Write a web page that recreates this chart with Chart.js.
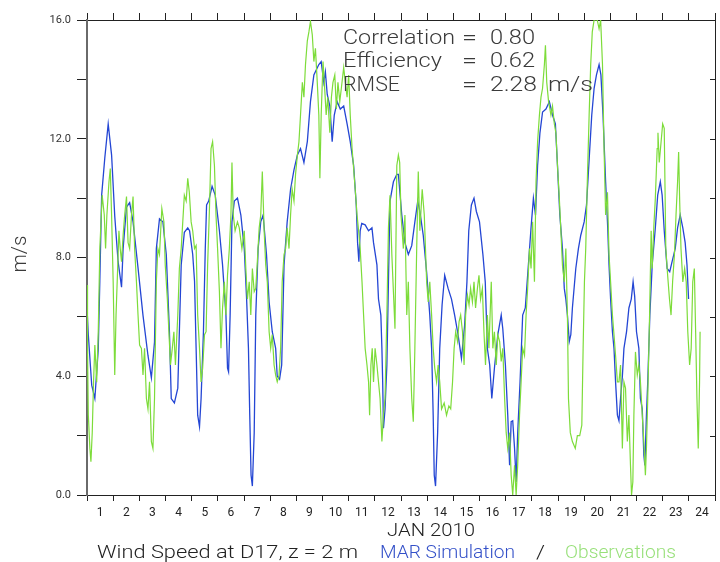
<!DOCTYPE html>
<html>
<head>
<meta charset="utf-8">
<script src="https://cdn.jsdelivr.net/npm/chart.js@4/dist/chart.umd.min.js"></script>
<style>
  html, body { margin: 0; padding: 0; background: #fff; }
  canvas { display: block; }
</style>
</head>
<body>
<canvas id="c" width="720" height="562"></canvas>
<script>
// ---- Data (time in days since 1 Jan 2010 00h, wind speed in m/s) ----
const simDays = [0.00,0.05,0.18,0.30,0.43,0.49,0.56,0.68,0.81,0.94,1.06,1.19,1.32,1.38,1.51,1.63,1.76,1.95,2.14,2.33,2.46,2.58,2.65,2.77,2.90,3.03,3.15,3.22,3.34,3.47,3.60,3.72,3.85,3.92,4.04,4.11,4.17,4.23,4.30,4.36,4.45,4.52,4.57,4.65,4.78,4.90,5.06,5.18,5.31,5.37,5.41,5.47,5.54,5.63,5.75,5.88,6.01,6.10,6.17,6.22,6.27,6.32,6.39,6.45,6.54,6.64,6.73,6.86,6.96,7.08,7.21,7.27,7.36,7.44,7.53,7.65,7.78,7.91,8.04,8.16,8.29,8.42,8.54,8.67,8.86,8.95,9.05,9.11,9.18,9.28,9.37,9.45,9.56,9.68,9.81,9.94,10.06,10.19,10.29,10.34,10.39,10.44,10.50,10.63,10.76,10.89,10.95,11.08,11.14,11.23,11.27,11.30,11.33,11.39,11.46,11.52,11.58,11.71,11.84,11.90,12.03,12.15,12.28,12.41,12.53,12.64,12.72,12.85,12.98,13.10,13.17,13.23,13.27,13.32,13.40,13.48,13.57,13.67,13.80,13.93,14.05,14.18,14.31,14.43,14.52,14.59,14.69,14.79,14.88,15.00,15.13,15.22,15.30,15.39,15.47,15.57,15.70,15.83,15.89,15.99,16.08,16.15,16.21,16.27,16.34,16.40,16.46,16.55,16.65,16.75,16.84,16.97,17.06,17.14,17.22,17.31,17.41,17.54,17.67,17.79,17.90,17.98,18.07,18.17,18.24,18.30,18.36,18.43,18.49,18.55,18.68,18.78,18.87,19.00,19.09,19.19,19.29,19.38,19.47,19.57,19.64,19.72,19.82,19.90,19.95,20.01,20.08,20.14,20.20,20.27,20.33,20.39,20.46,20.52,20.62,20.71,20.80,20.87,20.93,21.00,21.09,21.15,21.22,21.28,21.32,21.38,21.43,21.51,21.60,21.72,21.81,21.91,21.98,22.06,22.17,22.27,22.36,22.48,22.57,22.67,22.77,22.86,22.93,22.99];
const simSpeed = [6.3,5.4,3.7,3.25,4.9,7.2,10.1,11.35,12.5,11.45,9.4,7.85,7.0,8.3,9.7,9.85,9.2,7.65,6.05,4.7,3.95,5.15,8.3,9.3,9.2,8.1,5.5,3.25,3.1,3.6,7.75,8.85,9.0,8.9,8.1,7.2,4.94,2.69,2.3,3.25,5.5,8.3,9.77,9.9,10.4,10.1,8.9,7.75,6.06,4.27,4.15,6.06,9.2,9.9,10.0,9.43,8.3,6.6,4.94,2.69,0.67,0.3,2.1,6.06,8.3,9.2,9.43,8.1,6.5,5.5,4.94,4.0,3.9,4.38,7.75,9.2,10.3,10.95,11.45,11.67,11.2,11.9,13.25,14.15,14.5,14.6,13.9,14.25,13.5,13.1,11.9,12.8,13.25,13.0,13.1,12.5,11.9,11.1,9.77,8.5,7.86,8.9,9.15,9.1,8.9,9.0,8.5,7.75,6.6,6.06,4.94,3.81,2.25,2.9,4.38,7.18,9.9,10.55,10.8,10.8,9.43,8.5,8.1,8.4,9.2,9.9,9.55,8.75,7.5,6.06,4.94,2.69,0.67,0.3,2.1,4.94,6.4,7.4,6.96,6.6,6.06,5.4,4.6,5.7,7.18,8.9,9.77,10.0,9.55,9.2,8.1,7.18,4.94,4.38,3.25,4.27,5.4,6.06,5.6,4.38,2.69,1.0,2.47,2.5,1.57,0.44,2.1,3.81,6.06,6.3,7.4,9.0,10.0,9.43,11.1,12.2,12.9,13.0,13.25,12.8,12.5,11.1,9.43,8.3,6.96,6.6,6.06,5.17,5.4,6.3,7.63,8.3,8.75,9.2,9.77,11.3,12.8,13.7,14.15,14.5,14.15,12.8,10.55,9.0,7.75,6.6,5.5,4.94,3.81,2.69,2.5,3.25,4.0,4.94,5.5,6.3,6.6,7.18,6.7,5.5,4.94,3.25,2.9,1.35,1.0,2.69,3.81,6.06,7.75,9.0,10.1,10.55,10.1,8.9,7.63,7.52,7.86,8.3,9.0,9.43,9.0,8.5,7.75,6.6];

const obsDays = [0.00,0.02,0.05,0.11,0.15,0.20,0.25,0.30,0.37,0.43,0.49,0.58,0.66,0.71,0.76,0.84,0.89,0.94,1.00,1.06,1.11,1.17,1.22,1.27,1.32,1.38,1.44,1.51,1.57,1.63,1.70,1.76,1.82,1.89,1.95,2.01,2.08,2.14,2.20,2.27,2.33,2.39,2.46,2.52,2.58,2.65,2.71,2.77,2.86,2.94,2.99,3.07,3.13,3.19,3.26,3.32,3.38,3.47,3.53,3.60,3.66,3.72,3.79,3.85,3.91,3.98,4.04,4.11,4.17,4.23,4.30,4.36,4.42,4.49,4.55,4.61,4.68,4.74,4.80,4.87,4.93,4.99,5.06,5.12,5.18,5.25,5.31,5.37,5.44,5.50,5.54,5.59,5.66,5.75,5.82,5.92,6.01,6.07,6.13,6.20,6.26,6.32,6.39,6.45,6.51,6.58,6.64,6.70,6.77,6.83,6.89,6.96,7.02,7.08,7.15,7.21,7.27,7.34,7.40,7.46,7.53,7.59,7.65,7.72,7.78,7.84,7.91,7.97,8.04,8.10,8.16,8.23,8.29,8.35,8.42,8.48,8.54,8.61,8.67,8.73,8.80,8.86,8.90,8.95,9.02,9.07,9.14,9.20,9.28,9.34,9.40,9.47,9.53,9.59,9.66,9.72,9.81,9.87,9.94,10.00,10.06,10.13,10.19,10.25,10.32,10.38,10.44,10.51,10.57,10.63,10.70,10.76,10.80,10.85,10.90,10.95,11.01,11.08,11.14,11.20,11.27,11.33,11.39,11.46,11.52,11.58,11.65,11.71,11.77,11.84,11.90,11.95,12.00,12.09,12.15,12.22,12.28,12.34,12.41,12.47,12.53,12.60,12.66,12.72,12.81,12.89,12.98,13.04,13.10,13.17,13.23,13.29,13.36,13.42,13.48,13.55,13.65,13.74,13.83,13.90,13.97,14.03,14.09,14.16,14.22,14.28,14.35,14.41,14.47,14.54,14.60,14.66,14.73,14.79,14.85,14.92,14.98,15.04,15.11,15.17,15.23,15.30,15.36,15.45,15.51,15.57,15.64,15.70,15.77,15.83,15.89,15.96,16.02,16.08,16.15,16.21,16.27,16.34,16.40,16.46,16.53,16.59,16.65,16.72,16.78,16.84,16.91,16.97,17.03,17.10,17.16,17.22,17.29,17.35,17.41,17.48,17.52,17.57,17.64,17.73,17.79,17.86,17.92,17.98,18.05,18.11,18.17,18.24,18.30,18.36,18.40,18.47,18.55,18.66,18.74,18.83,18.91,18.96,19.01,19.06,19.12,19.19,19.25,19.31,19.38,19.50,19.57,19.63,19.70,19.76,19.82,19.89,19.95,20.01,20.08,20.14,20.20,20.27,20.33,20.39,20.46,20.52,20.58,20.65,20.71,20.77,20.81,20.86,20.90,20.96,21.03,21.09,21.15,21.22,21.28,21.34,21.38,21.43,21.50,21.56,21.60,21.66,21.72,21.79,21.82,21.87,21.94,22.00,22.06,22.12,22.19,22.26,22.32,22.38,22.45,22.51,22.57,22.61,22.65,22.70,22.77,22.84,22.90,22.96,23.03,23.09,23.15,23.21,23.26,23.31,23.36,23.41,23.43];
const obsSpeed = [7.07,4.94,2.7,1.57,1.12,2.1,3.81,5.05,3.8,5.5,8.3,10.1,9.43,8.3,9.43,10.55,11.0,9.43,7.18,4.04,6.06,7.6,8.9,8.3,7.86,8.75,9.43,10.05,8.5,8.3,9.43,10.05,8.3,7.18,6.06,5.05,4.94,4.04,4.94,3.25,2.9,3.81,1.8,1.57,3.25,7.18,8.3,8.1,9.65,9.2,7.75,6.6,5.5,4.38,4.94,5.5,4.38,6.06,7.63,8.3,9.2,10.1,9.9,10.67,10.2,9.2,8.9,8.3,8.4,6.06,4.94,3.81,4.27,5.4,5.5,7.75,9.65,11.67,11.9,11.1,9.43,8.3,6.85,4.94,6.3,7.18,6.06,7.4,8.3,9.43,11.2,9.43,8.9,9.2,9.0,8.3,8.9,7.63,6.6,7.18,6.06,7.63,6.85,6.96,7.86,9.0,9.43,10.9,8.9,7.75,7.18,5.5,4.94,5.4,4.38,4.04,3.81,4.04,4.94,7.18,8.1,8.3,9.0,8.3,9.43,10.3,9.9,10.8,11.45,11.9,12.8,13.9,13.4,14.5,15.3,15.6,15.95,15.5,14.6,15.05,13.9,12.8,10.67,12.8,14.6,13.9,12.8,13.4,12.2,13.4,13.9,14.15,13.0,13.9,13.25,13.7,14.4,13.9,13.4,14.15,12.8,11.67,11.0,10.3,9.43,8.9,8.3,7.18,6.06,4.94,4.38,3.81,2.69,4.38,4.94,3.81,4.94,4.38,3.81,3.25,1.8,2.69,3.25,6.06,9.0,10.1,8.1,6.85,5.6,11.1,11.45,11.2,9.43,8.3,9.43,6.06,7.18,4.94,3.25,2.47,4.94,8.3,10.9,8.9,10.3,9.43,7.18,6.5,7.18,6.06,4.94,4.27,3.81,4.38,3.81,2.9,3.1,2.69,3.0,2.9,3.81,4.94,5.5,5.17,5.84,6.06,5.5,4.38,6.06,6.73,6.4,6.96,6.5,7.18,6.3,6.96,7.4,6.6,6.96,5.5,4.38,6.06,4.94,7.18,4.94,5.5,4.38,5.4,5.17,4.5,4.94,3.25,2.1,1.57,2.1,0.67,0.0,1.0,0.0,1.0,2.69,3.81,4.94,4.7,6.06,6.96,8.3,7.63,9.2,7.18,10.55,11.9,12.8,13.4,13.7,14.5,15.15,13.9,13.25,12.8,13.1,12.5,12.2,11.1,10.0,8.9,7.75,7.18,8.3,6.06,3.25,2.1,1.8,1.57,2.0,2.0,2.35,4.94,7.18,8.3,10.55,12.8,14.5,15.6,16.0,16.0,15.7,16.0,14.5,11.67,9.43,10.2,8.1,7.18,6.06,5.4,4.7,3.81,3.81,4.38,1.57,3.81,3.6,1.8,2.69,1.0,0.0,0.44,2.69,4.82,4.04,4.38,3.81,2.69,1.8,0.67,1.57,3.25,6.06,8.9,7.63,9.0,10.0,11.67,12.2,11.2,11.9,12.5,12.35,8.3,7.4,6.6,6.06,7.18,8.1,9.43,10.55,11.55,9.9,8.3,7.18,7.63,7.18,5.5,4.38,4.94,7.18,7.63,5.5,3.25,1.57,3.81,5.5];

const dayLabels = ['1','2','3','4','5','6','7','8','9','10','11','12','13','14','15','16','17','18','19','20','21','22','23','24'];
const statNames = ['Correlation', 'Efficiency', 'RMSE'];
const statValues = ['0.80', '0.62', '2.28'];

const toPoints = (xs, ys) => xs.map((x, i) => ({ x: x, y: ys[i] }));

const FONT = 'Roboto, "DejaVu Sans", sans-serif';
function fitText(ctx, text, x, y, width, size, color) {
  ctx.save();
  ctx.font = '300 ' + size + 'px ' + FONT;
  const w = ctx.measureText(text).width;
  ctx.translate(x, y);
  ctx.scale(width / w, 1);
  ctx.fillStyle = color;
  ctx.textAlign = 'left';
  ctx.textBaseline = 'middle';
  ctx.fillText(text, 0, 0);
  ctx.restore();
}

const overlay = {
  id: 'overlay',
  afterDraw(chart) {
    const { ctx, chartArea, scales } = chart;
    // inward tick marks on the right frame
    ctx.save();
    ctx.strokeStyle = '#222';
    ctx.lineWidth = 1;
    scales.y2.ticks.forEach(t => {
      const y = Math.round(scales.y2.getPixelForValue(t.value)) + 0.5;
      ctx.beginPath();
      ctx.moveTo(chartArea.right - 5, y);
      ctx.lineTo(chartArea.right, y);
      ctx.stroke();
    });
    ctx.restore();

    // statistics block
    const txt = '#3a3a3a';
    const rows = [38.5, 62, 85.5];
    const nameW = [112, 99, 57];
    for (let i = 0; i < 3; i++) {
      fitText(ctx, statNames[i], 343, rows[i], nameW[i], 20, txt);
      fitText(ctx, '=', 462, rows[i], 15, 20, txt);
      fitText(ctx, statValues[i], 490, rows[i], i === 2 ? 47 : 45, 20, txt);
    }
    fitText(ctx, 'm/s', 548, rows[2], 45, 20, txt);

    // y axis title
    ctx.save();
    ctx.translate(21, 254);
    ctx.rotate(-Math.PI / 2);
    fitText(ctx, 'm/s', -18.5, 0, 37, 20, txt);
    ctx.restore();

    // x axis title and caption
    fitText(ctx, 'JAN 2010', 387, 531.5, 88, 18, '#222');
    fitText(ctx, 'Wind Speed at D17, z = 2 m', 97, 553, 261, 18, '#222');
    fitText(ctx, 'MAR Simulation', 380, 553, 135, 18, '#3350c8');
    fitText(ctx, '/', 536, 553, 9, 18, '#222');
    fitText(ctx, 'Observations', 565, 553, 111, 18, '#98e07a');
  }
};

const tickOn = c => (c.tick && Math.abs(c.tick.value % 1) < 1e-9) ? '#222' : 'rgba(0,0,0,0)';

new Chart(document.getElementById('c'), {
  type: 'line',
  data: {
    datasets: [
      {
        label: 'Observations',
        data: toPoints(obsDays, obsSpeed),
        borderColor: '#7ddc3a',
        borderWidth: 1.2,
        pointRadius: 0,
        tension: 0,
        order: 0
      },
      {
        label: 'MAR Simulation',
        data: toPoints(simDays, simSpeed),
        borderColor: '#2446d4',
        borderWidth: 1.3,
        pointRadius: 0,
        tension: 0,
        order: 1
      }
    ]
  },
  options: {
    responsive: false,
    animation: false,
    devicePixelRatio: 1,
    layout: { padding: 0 },
    plugins: { legend: { display: false }, tooltip: { enabled: false }, title: { display: false } },
    scales: {
      x: {
        type: 'linear', position: 'bottom', min: 0, max: 24,
        afterFit(s) { s.height = 67; },
        border: { display: true, color: '#222', width: 1 },
        grid: { drawOnChartArea: false, drawTicks: true, tickLength: 6, tickColor: tickOn, tickWidth: 1 },
        ticks: {
          stepSize: 0.5, autoSkip: false, maxRotation: 0, minRotation: 0, padding: 5,
          color: '#222', font: { family: FONT, size: 12 },
          callback: v => (Math.abs(v % 1 - 0.5) < 1e-9) ? dayLabels[Math.floor(v)] : ''
        }
      },
      x2: {
        type: 'linear', position: 'top', min: 0, max: 24,
        afterFit(s) { s.height = 20; },
        border: { display: true, color: '#222', width: 1 },
        grid: { drawOnChartArea: false, drawTicks: true, tickLength: 7, tickColor: '#222' },
        ticks: { stepSize: 1, display: false, autoSkip: false }
      },
      y: {
        type: 'linear', position: 'left', min: 0, max: 16,
        afterFit(s) { s.width = 87; },
        border: { display: true, color: '#6a6a6a', width: 2 },
        grid: { drawOnChartArea: false, drawTicks: true, tickLength: 10, tickColor: '#222' },
        ticks: {
          stepSize: 2, padding: 6, color: '#333', font: { family: FONT, size: 11 },
          callback: v => (v % 4 === 0) ? v.toFixed(1) : ''
        }
      },
      y2: {
        type: 'linear', position: 'right', min: 0, max: 16,
        afterFit(s) { s.width = 2; },
        border: { display: true, color: '#222', width: 1 },
        grid: { drawOnChartArea: false, drawTicks: false },
        ticks: { stepSize: 2, display: false }
      }
    }
  },
  plugins: [overlay]
});
</script>
</body>
</html>
